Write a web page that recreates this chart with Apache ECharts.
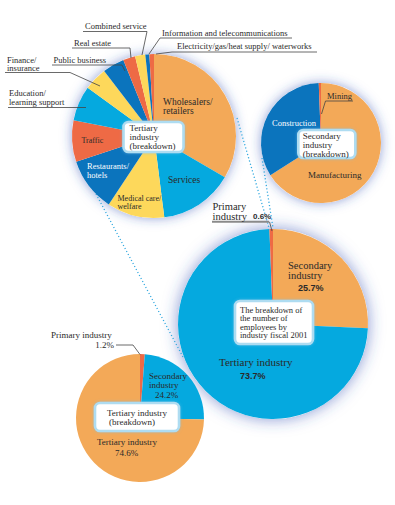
<!DOCTYPE html>
<html>
<head>
<meta charset="utf-8">
<script src="https://cdn.jsdelivr.net/npm/echarts@6/dist/echarts.min.js"></script>
<style>html,body{margin:0;padding:0;background:#fff}#c{width:395px;height:505px}</style>
</head>
<body>
<div id="c"></div>
<script>
// ---- data ----
const tertiaryCats = ['Wholesalers/\nretailers','Services','Medical care/\nwelfare','Restaurants/\nhotels','Traffic','Education/\nlearning support','Finance/\ninsurance','Public business','Real estate','Combined service','Information and telecommunications','Electricity/gas/heat supply/ waterworks'];
const tertiaryVals = [33.4,14.6,11.3,10.6,8.2,6.9,4.6,4.3,2.4,2.0,0.8,0.9];
const secondaryCats = ['Manufacturing','Construction','Mining'];
const secondaryVals = [66.0,33.4,0.6];
const mainCats = ['Secondary\nindustry','Tertiary industry','Primary\nindustry'];
const mainVals = [25.7,73.7,0.6];
const pastCats = ['Primary industry','Secondary\nindustry','Tertiary industry'];
const pastVals = [1.2,24.2,74.6];
const titles = {
  tertiary: 'Tertiary\nindustry\n(breakdown)',
  secondary: 'Secondary\nindustry\n(breakdown)',
  main: 'The breakdown of\nthe number of\nemployees by\nindustry fiscal 2001',
  past: 'Tertiary industry\n(breakdown)'
};

// ---- style ----
const OR='#F3A958', CY='#05A9DF', YE='#FDD85B', DB='#0B74BD', RD='#EE6A45';
const tertiaryColors=[OR,CY,YE,DB,RD,CY,YE,DB,RD,YE,DB,RD];
const secondaryColors=[OR,DB,RD];
const mainColors=[OR,CY,RD];
const pastColors=[RD,CY,OR];
const SERIF='"Liberation Serif","DejaVu Serif",serif';
const SANSB='"Liberation Sans Narrow","Liberation Sans",sans-serif';
const TXT='#2a2a2a';

const P1={c:[154,136],r:82}, P2={c:[321,143],r:60}, P3={c:[273,324],r:95}, P4={c:[140,418],r:64};

function pie(p, cats, vals, colors){
  return {type:'pie', center:p.c, radius:[0,p.r], startAngle:90, clockwise:true,
    silent:true, animation:false, label:{show:false}, labelLine:{show:false},
    itemStyle:{borderWidth:0},
    data: vals.map((v,i)=>({name:cats[i].replace(/\n/g,' '), value:v, itemStyle:{color:colors[i]}}))};
}

const g=[];
function T(x,y,text,o){
  o=o||{};
  const size=o.size||8.5;
  const lines=text.split('\n'), lh=o.lh||size;
  lines.forEach((ln,i)=>{
    g.push({type:'text', z:100, x:x, y:y+i*lh, silent:true,
      style:{text:ln, x:0, y:0, fill:o.color||TXT, font:(o.bold?'bold ':'')+size+'px '+(o.family||SERIF),
        textAlign:o.align||'left', textVerticalAlign:'middle'}});
  });
}
function L(pts,o){
  o=o||{};
  g.push({type:'polyline', z:o.z||90, silent:true, shape:{points:pts},
    style:{stroke:o.color||'#444', lineWidth:o.w||0.8, fill:null, lineDash:o.dash||null}});
}
function glow(p,blur,col){
  g.push({type:'circle', z:0, silent:true, shape:{cx:p.c[0],cy:p.c[1],r:p.r},
    style:{fill:'#fff', shadowBlur:blur, shadowColor:col}});
}
function box(x,y,w,h){
  g.push({type:'rect', z:95, silent:true, shape:{x:x,y:y,width:w,height:h,r:5},
    style:{fill:'#fff', stroke:'#AEDCF1', lineWidth:2.6, shadowBlur:3, shadowColor:'rgba(120,190,230,0.6)'}});
}

// glows
glow(P1,12,'rgba(50,80,180,0.55)');
glow(P2,12,'rgba(50,80,180,0.55)');
glow(P3,16,'rgba(50,80,180,0.6)');

// dotted connectors
const DOT={color:'#35AAE0', w:1.3, dash:[1.2,2.2], z:1};
L([[237,118],[269,228]],DOT);
L([[262,158],[273,228]],DOT);
L([[96,194],[183,357]],DOT);

// pie 1 outer labels
T(85,26,tertiaryCats[9]);
L([[83,31.5],[147,31.5],[142,55]]);
T(162,32.5,tertiaryCats[10]);
L([[292,38],[160,38],[149,54]]);
T(177,46,tertiaryCats[11]);
L([[317,52],[172,52],[156,54]]);
T(74,42.5,tertiaryCats[8]);
L([[72,48],[130,48],[131,58]]);
T(53.5,60,tertiaryCats[7]);
L([[52,65],[122,65],[125,71]]);
T(7,59.5,tertiaryCats[6]);
L([[5,72.5],[70,72.5],[100,86]]);
T(9,93,tertiaryCats[5]);
L([[8,107.5],[86,107.5]]);

// pie 1 inner labels
T(163,101.5,tertiaryCats[0],{size:9.5});
T(168,180,tertiaryCats[1],{size:9.5});
T(117.5,198,tertiaryCats[2],{size:8});
T(87,166,tertiaryCats[3],{size:8.5,color:'#fff'});
T(81.5,140.5,tertiaryCats[4],{size:8});
box(123.5,122,60,30);
T(129.5,128,titles.tertiary,{size:9,lh:9});

// pie 2 labels
T(272,122.5,secondaryCats[1],{size:8.5,color:'#fff'});
T(308,174.5,secondaryCats[0],{size:9});
T(327,95.5,secondaryCats[2],{size:8.5});
L([[321.5,114],[325.5,101],[353,101]]);
box(298.3,130,57,28);
T(302.7,136.3,titles.secondary,{size:9,lh:9});

// main pie labels
T(212.5,206,mainCats[2],{size:10.5,lh:10});
T(253,216,mainVals[2].toFixed(1)+'%',{size:8,bold:true,family:SANSB});
L([[212,221.8],[269,221.8]],{color:'#8a8a8a',w:2});
L([[269.5,221.8],[272,231]]);
T(288,265.5,mainCats[0],{size:10.5,lh:10});
T(298,288,mainVals[0].toFixed(1)+'%',{size:9,bold:true,family:SANSB});
T(219,361.5,mainCats[1],{size:11});
T(240,375.5,mainVals[1].toFixed(1)+'%',{size:9,bold:true,family:SANSB});
box(235,301,78,43);
T(240,309.5,titles.main,{size:8.5,lh:8.6});

// past pie labels
T(51,335,pastCats[0],{size:9});
T(114,345,pastVals[0].toFixed(1)+'%',{size:9,align:'right'});
L([[116,345],[133,345],[140,354.5]]);
T(149,376,pastCats[1],{size:9});
T(155,395,pastVals[1].toFixed(1)+'%',{size:9});
T(97,442,pastCats[2],{size:9});
T(115,452.5,pastVals[2].toFixed(1)+'%',{size:9});
box(95,403,84,28);
T(107,412.5,titles.past.split('\n')[0],{size:9});
T(109,421.5,titles.past.split('\n')[1],{size:9});

const chart=echarts.init(document.getElementById('c'),null,{renderer:'svg'});
chart.setOption({
  animation:false,
  backgroundColor:'#fff',
  series:[
    pie(P1,tertiaryCats,tertiaryVals,tertiaryColors),
    pie(P2,secondaryCats,secondaryVals,secondaryColors),
    pie(P3,mainCats,mainVals,mainColors),
    pie(P4,pastCats,pastVals,pastColors)
  ],
  graphic:{elements:g}
});
</script>
</body>
</html>
